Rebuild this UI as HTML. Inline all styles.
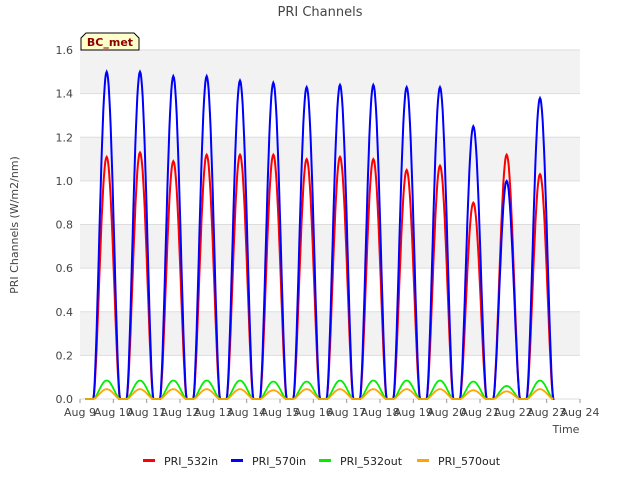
<!DOCTYPE html>
<html><head><meta charset="utf-8"><style>
body{margin:0;background:#fff;font-family:"Liberation Sans","DejaVu Sans",sans-serif}
svg text{font-family:"DejaVu Sans","Liberation Sans",sans-serif}
</style></head><body>
<svg id="c" width="640" height="480">
<rect x="80" y="50" width="500" height="350" fill="#ffffff"/>
<g id="bands"></g><g id="grid"></g><g id="series"></g><g id="axes"></g>
<text x="320" y="16" text-anchor="middle" font-size="13" fill="#444">PRI Channels</text>
<text x="566" y="433" text-anchor="middle" font-size="11" fill="#444">Time</text>
<text transform="translate(18,225) rotate(-90)" text-anchor="middle" font-size="11" fill="#444">PRI Channels (W/m2/nm)</text>
<g>
<path d="M81,50 L81,38 L86,33 L134,33 L139,38 L139,50 Z" fill="#ffffcc" stroke="#000"/>
<text x="110" y="46" text-anchor="middle" font-size="11" font-weight="bold" fill="#8b0000">BC_met</text></g>
<g id="legend"></g>
</svg>
<script>
const days=["Aug 9","Aug 10","Aug 11","Aug 12","Aug 13","Aug 14","Aug 15","Aug 16","Aug 17","Aug 18","Aug 19","Aug 20","Aug 21","Aug 22","Aug 23","Aug 24"];
const yTicks=[0,0.2,0.4,0.6,0.8,1.0,1.2,1.4,1.6];
const names=["PRI_532in","PRI_570in","PRI_532out","PRI_570out"];
const colors=["#ff0000","#0000ff","#00ee00","#ffa500"];
const peak532in=[1.11,1.13,1.09,1.12,1.12,1.12,1.10,1.11,1.10,1.05,1.07,0.90,1.12,1.03];
const peak570in=[1.50,1.50,1.48,1.48,1.46,1.45,1.43,1.44,1.44,1.43,1.43,1.25,1.00,1.38];
const peak532out=[0.085,0.085,0.085,0.085,0.085,0.08,0.08,0.085,0.085,0.085,0.085,0.08,0.06,0.085];
const peak570out=[0.045,0.045,0.045,0.045,0.045,0.04,0.045,0.045,0.045,0.045,0.045,0.04,0.035,0.045];
const peaks=[peak532in,peak570in,peak532out,peak570out];
const X=d=>80+d*500/15, Y=v=>399-v*349/1.6;
const ns="http://www.w3.org/2000/svg";
function mk(t,a,p){const e=document.createElementNS(ns,t);for(const k in a)e.setAttribute(k,a[k]);p.appendChild(e);return e;}
const bands=document.getElementById('bands'),grid=document.getElementById('grid'),axes=document.getElementById('axes');
for(let i=0;i<yTicks.length-1;i++){if(i%2==1){const b=mk('rect',{x:80,y:Y(yTicks[i+1]),width:500,height:Y(yTicks[i])-Y(yTicks[i+1]),fill:'#f2f2f2'},bands);}}
yTicks.forEach(v=>{const l=mk('line',{x1:80,x2:580,y1:Y(v),y2:Y(v),stroke:'#dddddd'},grid);
const t=mk('text',{x:73,y:Y(v)+4,'text-anchor':'end','font-size':11,fill:'#444'},axes);t.textContent=v.toFixed(1);});
days.forEach((d,i)=>{const t=mk('text',{x:X(i),y:416,'text-anchor':'middle','font-size':11,fill:'#444'},axes);t.textContent=d;
const l=mk('line',{x1:X(i),x2:X(i),y1:399,y2:403,stroke:'#999'},axes);});
const sg=document.getElementById('series');
peaks.forEach((arr,s)=>{let d='';
arr.forEach((p,i)=>{const st=i+0.4,en=i+1.2;
d+=`M${X(i+0.15)},${Y(0)}L${X(st)},${Y(0)}`;
for(let k=0;k<=40;k++){const t=st+(en-st)*k/40;const v=p*Math.pow(Math.sin(Math.PI*k/40),1.6);d+=`L${X(t).toFixed(1)},${Y(v).toFixed(1)}`;}
d+=`L${X(i+1.15)},${Y(0)}`;});
const pa=mk('path',{d:d,fill:'none',stroke:colors[s],'stroke-width':s<2?2:1.8},sg);
});
const lg=document.getElementById('legend');let lx=143;
names.forEach((n,i)=>{const g=mk('g',{},lg);
mk('rect',{x:lx,y:459,width:12,height:3,fill:colors[i]},g);
const t=mk('text',{x:lx+21,y:465,'font-size':11,fill:'#222'},g);t.textContent=n;lx+=[88,88,98][i]||0;});
</script>
</body></html>
